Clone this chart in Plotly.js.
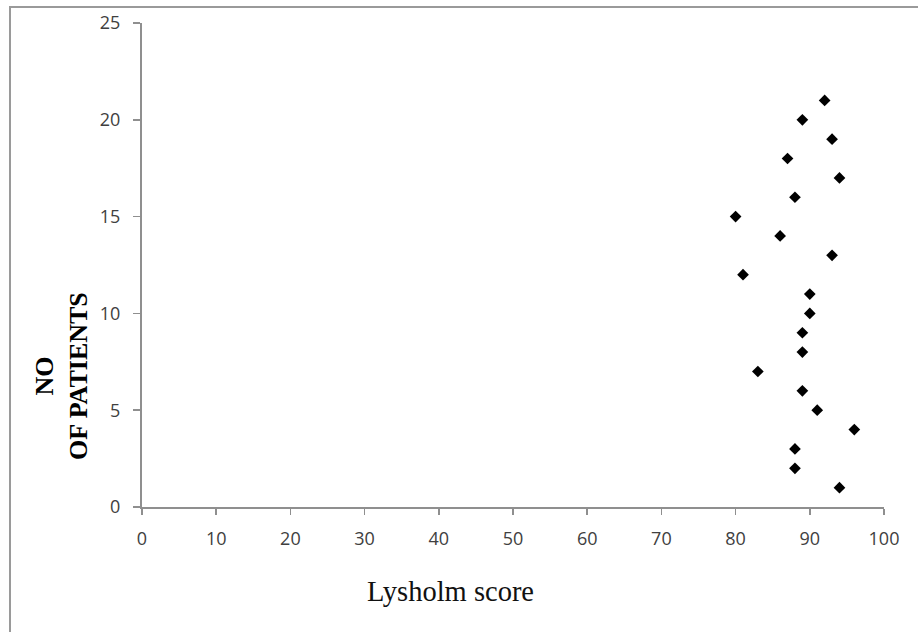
<!DOCTYPE html>
<html>
<head>
<meta charset="utf-8">
<script src="https://cdn.plot.ly/plotly-3.0.1.min.js"></script>
<style>
  html, body { margin: 0; padding: 0; background: #fff; overflow: hidden; }
  #frame { position: absolute; left: 9px; top: 6px; width: 960px; height: 700px;
           border-left: 2px solid #9a9a9a; border-top: 2px solid #9a9a9a; pointer-events: none; }
  #chart { position: absolute; left: 0; top: 0; width: 918px; height: 632px; }
</style>
</head>
<body>
<div id="chart"></div>
<div id="frame"></div>
<script>
// Lysholm score (x) for each patient number (y)
const patients = [1, 2, 3, 4, 5, 6, 7, 8, 9, 10, 11, 12, 13, 14, 15, 16, 17, 18, 19, 20, 21];
const lysholm  = [94, 88, 88, 96, 91, 89, 83, 89, 89, 90, 90, 81, 93, 86, 80, 88, 94, 87, 93, 89, 92];
const xTicks = [0, 10, 20, 30, 40, 50, 60, 70, 80, 90, 100];
const yTicks = [0, 5, 10, 15, 20, 25];

const axisColor = '#8f8f8f';
const tickFont = { family: 'Open Sans, sans-serif', size: 18, color: '#404040' };

const trace = {
  type: 'scatter', mode: 'markers',
  x: lysholm, y: patients,
  marker: { symbol: 'diamond', size: 9, color: '#000' },
  hoverinfo: 'skip'
};

const layout = {
  width: 918, height: 632,
  margin: { l: 142, r: 34, t: 23, b: 125 },
  paper_bgcolor: '#fff', plot_bgcolor: '#fff',
  showlegend: false,
  xaxis: {
    range: [0, 100], tickvals: xTicks, ticktext: xTicks.map(String),
    showline: true, linecolor: axisColor, linewidth: 2,
    ticks: 'outside', ticklen: 6, tickcolor: axisColor, tickwidth: 1.5,
    showgrid: false, zeroline: false, tickfont: tickFont, ticklabelstandoff: 8
  },
  yaxis: {
    range: [0, 25], tickvals: yTicks, ticktext: yTicks.map(String),
    showline: true, linecolor: axisColor, linewidth: 2,
    ticks: 'outside', ticklen: 7, tickcolor: axisColor, tickwidth: 1.5,
    showgrid: false, zeroline: false, tickfont: tickFont, ticklabelstandoff: 9
  },
  annotations: [
    {
      text: 'NO<br>OF PATIENTS', textangle: -90,
      xref: 'paper', yref: 'paper', x: (61 - 142) / 742, y: (507 - 376) / 484,
      xanchor: 'center', yanchor: 'middle', showarrow: false,
      font: { family: 'Liberation Serif, Times New Roman, serif', size: 26, color: '#000', weight: 'bold' }
    },
    {
      text: 'Lysholm score',
      xref: 'paper', yref: 'paper', x: (450 - 142) / 742, y: (507 - 591) / 484,
      xanchor: 'center', yanchor: 'middle', showarrow: false,
      font: { family: 'Liberation Serif, Times New Roman, serif', size: 28.5, color: '#111' }
    }
  ]
};

Plotly.newPlot('chart', [trace], layout, { staticPlot: true, displayModeBar: false });
</script>
</body>
</html>
